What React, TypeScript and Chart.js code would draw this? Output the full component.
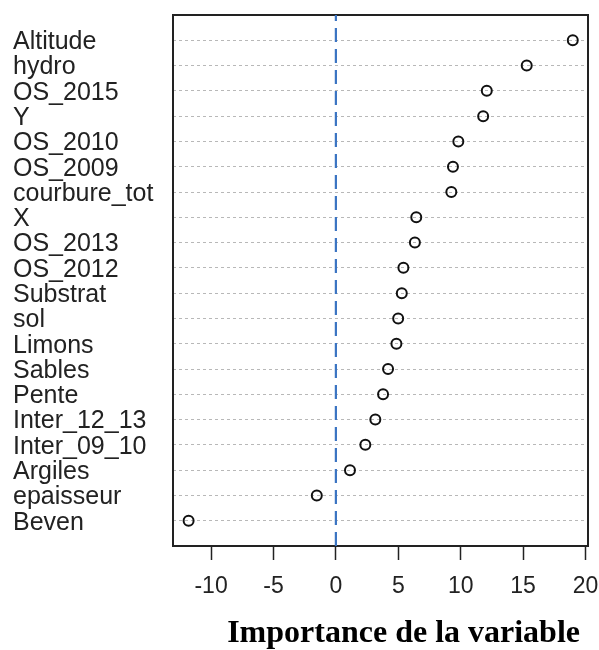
import React, { useEffect, useRef } from "react";
import { Chart, registerables } from "chart.js";

Chart.register(...registerables);

// Variables listed from top to bottom as in the reference
const categories: string[] = [
  "Altitude", "hydro", "OS_2015", "Y", "OS_2010", "OS_2009", "courbure_tot",
  "X", "OS_2013", "OS_2012", "Substrat", "sol", "Limons", "Sables", "Pente",
  "Inter_12_13", "Inter_09_10", "Argiles", "epaisseur", "Beven",
];
const importance: number[] = [
  18.98, 15.29, 12.09, 11.8, 9.81, 9.38, 9.25,
  6.44, 6.33, 5.41, 5.28, 4.99, 4.85, 4.18, 3.78,
  3.16, 2.36, 1.13, -1.53, -11.8,
];
const xTickValues: number[] = [-10, -5, 0, 5, 10, 15, 20];
const referenceValue = 0;
const axisTitle = "Importance de la variable";

const boxPlugin = {
  id: "boxFrame",
  beforeDatasetsDraw(chart: any) {
    const { ctx, chartArea } = chart;
    ctx.save();
    ctx.strokeStyle = "#222";
    ctx.lineWidth = 2;
    ctx.setLineDash([]);
    ctx.strokeRect(chartArea.left, chartArea.top, chartArea.right - chartArea.left, chartArea.bottom - chartArea.top);
    ctx.restore();
  },
};

export default function App() {
  const ref = useRef<HTMLCanvasElement | null>(null);
  useEffect(() => {
    if (!ref.current) return;
    const n = categories.length;
    const points = importance.map((v, i) => ({ x: v, y: n - i }));
    const chart = new Chart(ref.current, {
      type: "scatter",
      data: {
        datasets: [
          {
            type: "line",
            data: [
              { x: referenceValue, y: 0 },
              { x: referenceValue, y: n + 1 },
            ],
            borderColor: "#3a74c2",
            borderWidth: 2.2,
            borderDash: [14, 7],
            pointRadius: 0,
            fill: false,
          } as any,
          {
            data: points,
            pointStyle: "circle",
            pointRadius: 5,
            pointBorderWidth: 2,
            borderColor: "#111",
            backgroundColor: "rgba(255,255,255,0)",
            showLine: false,
          },
        ],
      },
      options: {
        animation: false,
        responsive: false,
        devicePixelRatio: 1,
        layout: { padding: { left: 13, right: 11, top: 15, bottom: 0 } },
        plugins: { legend: { display: false }, tooltip: { enabled: false } },
        scales: {
          x: {
            type: "linear",
            min: -13.05,
            max: 20.2,
            afterBuildTicks: (s: any) => {
              s.ticks = xTickValues.map((v) => ({ value: v }));
            },
            afterFit: (s: any) => {
              s.height = 104;
              s.paddingLeft = 0;
              s.paddingRight = 0;
            },
            grid: {
              drawOnChartArea: false,
              drawTicks: true,
              tickLength: 14,
              tickColor: "#222",
              tickWidth: 1.5,
            } as any,
            border: { display: false },
            ticks: {
              padding: 13,
              color: "#222",
              font: { family: "'Liberation Sans', Arial, sans-serif", size: 23 },
              maxRotation: 0,
              autoSkip: false,
            },
            title: {
              display: true,
              text: axisTitle + " ",
              align: "end",
              color: "#000",
              font: { family: "'Liberation Serif', 'Times New Roman', serif", size: 32, weight: "bold", lineHeight: 1 },
              padding: { top: 0, bottom: 0 },
            },
          },
          y: {
            type: "linear",
            min: 0,
            max: n + 1,
            afterBuildTicks: (s: any) => {
              s.ticks = categories.map((_, i) => ({ value: n - i }));
            },
            afterFit: (s: any) => {
              s.width = 160;
              s.paddingTop = 0;
              s.paddingBottom = 0;
            },
            grid: {
              drawOnChartArea: true,
              drawTicks: false,
              color: "#b8b8b8",
              lineWidth: 1,
            },
            border: { display: false, dash: [3, 3] },
            ticks: {
              crossAlign: "far",
              autoSkip: false,
              labelOffset: 2,
              color: "#222",
              font: { family: "'Liberation Sans', Arial, sans-serif", size: 25, lineHeight: 1 },
              callback: (value: any) => {
                const idx = n - Number(value);
                return categories[idx] ?? "";
              },
            },
          },
        },
      },
      plugins: [boxPlugin],
    });
    return () => chart.destroy();
  }, []);
  return (
    <div style={{ position: "absolute", left: 0, top: 0, width: 599, height: 650, background: "#fff" }}>
      <canvas ref={ref} width={599} height={650} style={{ display: "block" }} />
    </div>
  );
}
